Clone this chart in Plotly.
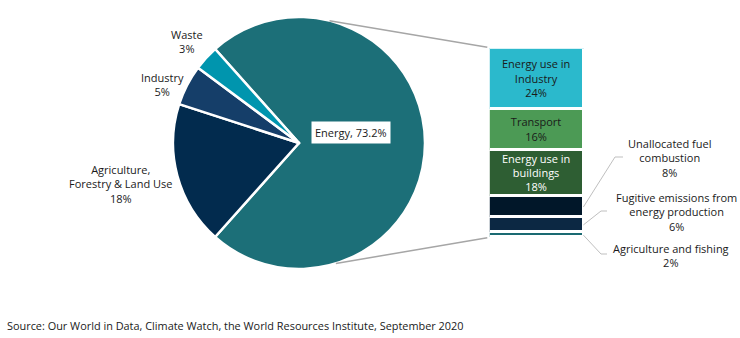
import math
import plotly.graph_objects as go

W, H = 740, 338
FONT = "Open Sans"
TXT = "#1a1a1a"

# ---- data ----
pie_labels = ["Energy", "Agriculture, Forestry & Land Use", "Industry", "Waste"]
pie_values = [73.2, 18.4, 5.2, 3.2]
pie_colors = ["#1c6f78", "#022b4e", "#153e69", "#0095ae"]

bar_labels = ["Agriculture and fishing", "Fugitive emissions from energy production",
              "Unallocated fuel combustion", "Energy use in buildings", "Transport",
              "Energy use in Industry"]
bar_values = [2, 6, 8, 18, 16, 24]
bar_colors = ["#1a6a72", "#0c2843", "#011729", "#2e5e33", "#4c9a55", "#2bb9cc"]
bar_inside_text = ["", "", "", "Energy use in<br>buildings<br>18%", "Transport<br>16%",
                   "Energy use in<br>Industry<br>24%"]
bar_text_color = ["white", "white", "white", "white", TXT, TXT]

# ---- geometry ----
cx, cy, r = 299.0, 143.0, 126.0
pie_dom_x = [(cx - r) / W, (cx + r) / W]
pie_dom_y = [1 - (cy + r) / H, 1 - (cy - r) / H]
energy_span = pie_values[0] / sum(pie_values) * 360
rotation = 90 - energy_span / 2

bx0, bx1 = 489.3, 584.4
by_top, by_bot = 48.3, 237.7
bar_dom_x = [bx0 / W, bx1 / W]
bar_dom_y = [1 - by_bot / H, 1 - by_top / H]
total = sum(bar_values)


def bar_py(v):
    return by_bot - (v / total) * (by_bot - by_top)


fig = go.Figure()
fig.add_trace(go.Pie(
    labels=pie_labels, values=pie_values, sort=False, direction="clockwise",
    rotation=rotation, textinfo="none", showlegend=False,
    marker=dict(colors=pie_colors, line=dict(color="white", width=2.5)),
    domain=dict(x=pie_dom_x, y=pie_dom_y),
))

for lab, val, col, t, tc in zip(bar_labels, bar_values, bar_colors, bar_inside_text, bar_text_color):
    fig.add_trace(go.Bar(
        x=[0], y=[val], name=lab, width=1, showlegend=False,
        marker=dict(color=col, line=dict(color="white", width=3.4)),
        text=[t], textposition="inside", insidetextanchor="middle",
        textangle=0, constraintext="none",
        textfont=dict(family=FONT, size=11, color=tc),
        hovertemplate=lab + ": %{y}%<extra></extra>",
    ))

shapes = []
def line(p0, p1, color="#a6a6a6", width=1.5):
    shapes.append(dict(type="line", xref="paper", yref="paper",
                       x0=p0[0] / W, y0=1 - p0[1] / H, x1=p1[0] / W, y1=1 - p1[1] / H,
                       line=dict(color=color, width=width)))

def pie_pt(theta):
    t = math.radians(theta)
    return (cx + r * math.sin(t), cy - r * math.cos(t))

# connectors pie -> bar
line(pie_pt(14), (bx0 - 2, bar_py(total) - 1))
line(pie_pt(163), (bx0 - 2, bar_py(0)))

# callouts for small segments
cum = 0
mids = []
for v in bar_values:
    mids.append(bar_py(cum + v / 2))
    cum += v
# index 2 unallocated, 1 fugitive, 0 agriculture
callouts = [(2, 615, 157, 623), (1, 601, 211, 607), (0, 601, 254, 607)]
for idx, xk, yk, xe in callouts:
    line((bx1 - 1, mids[idx]), (xk, yk), color="#bfbfbf", width=1)
    line((xk, yk), (xe, yk), color="#bfbfbf", width=1)

annotations = []
def ann(text, x, y, size=11, anchor="center", **kw):
    annotations.append(dict(text=text, x=x / W, y=1 - y / H, xref="paper", yref="paper",
                            showarrow=False, xanchor=anchor, yanchor="middle", align=anchor if anchor != "center" else "center",
                            font=dict(family=FONT, size=size, color=TXT), **kw))

ann("Waste<br>3%", 187, 41.5)
ann("Industry<br>5%", 162, 84.5)
ann("Agriculture,<br>Forestry &amp; Land Use<br>18%", 121, 184.5)
ann("Energy, 73.2%", 350.5, 132, bgcolor="white", borderpad=3)
ann("Unallocated fuel<br>combustion<br>8%", 670, 157.5)
ann("Fugitive emissions from<br>energy production<br>6%", 676, 212)
ann("Agriculture and fishing<br>2%", 671, 255.5)
ann("Source: Our World in Data, Climate Watch, the World Resources Institute, September 2020",
    5, 325, size=10.9, anchor="left")

fig.update_layout(
    width=W, height=H, margin=dict(l=0, r=0, t=0, b=0),
    paper_bgcolor="white", plot_bgcolor="white",
    barmode="stack", bargap=0,
    xaxis=dict(domain=bar_dom_x, range=[-0.5, 0.5], visible=False, fixedrange=True),
    yaxis=dict(domain=bar_dom_y, range=[0, total], visible=False, fixedrange=True),
    shapes=shapes, annotations=annotations,
    font=dict(family=FONT, color=TXT),
)

fig.write_html("out.html")
